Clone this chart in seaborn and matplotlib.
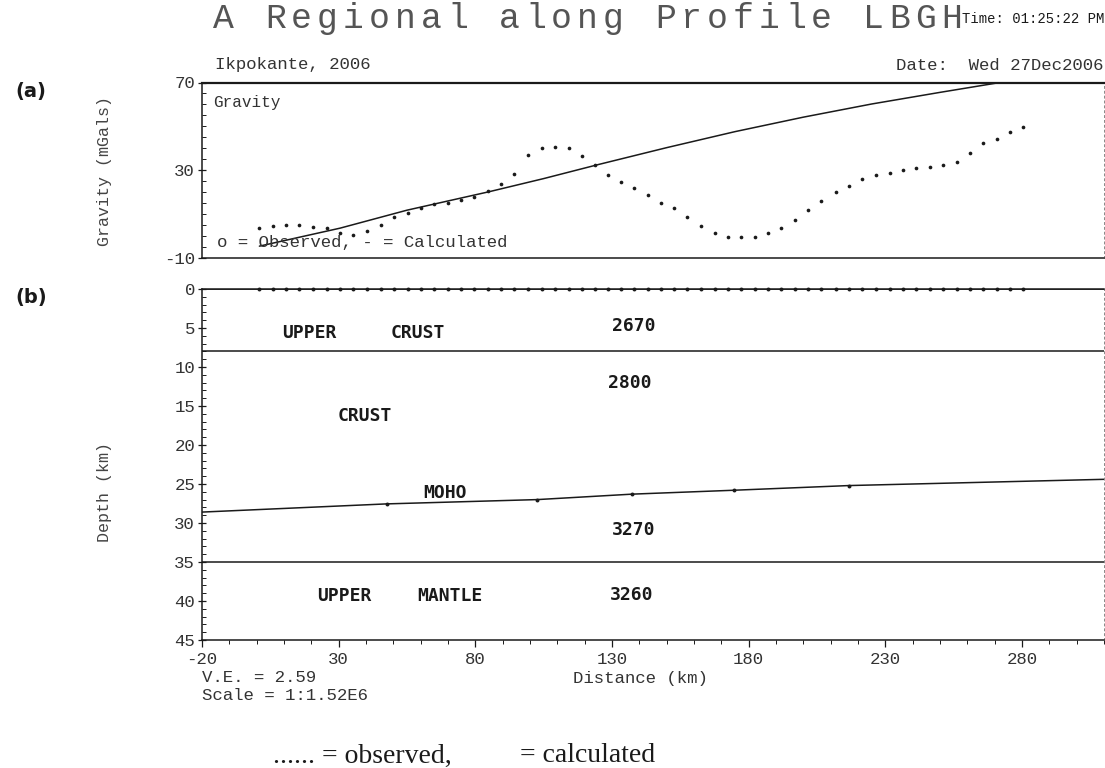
import numpy as np
import pandas as pd
import matplotlib.pyplot as plt
from matplotlib.ticker import MultipleLocator
import seaborn as sns

# gravity stations along the profile (km) and observed anomaly (mGal)
station_km = [1.0, 5.9, 10.8, 15.6, 20.5, 25.7, 30.5, 35.4, 40.5, 45.4,
              50.3, 55.2, 60.1, 65.0, 69.9, 74.8, 79.6, 84.5, 89.4, 94.3,
              99.4, 104.3, 109.2, 114.1, 118.9, 123.6, 128.5, 133.4, 138.2, 143.1,
              147.8, 152.6, 157.5, 162.4, 167.5, 172.4, 177.3, 182.2, 187.1, 192.0,
              196.8, 201.7, 206.6, 211.9, 216.7, 221.6, 226.5, 231.6, 236.5, 241.4,
              246.3, 251.2, 256.1, 260.9, 265.8, 270.7, 275.6, 280.5]
observed_mgal = [3.6, 4.6, 5.1, 5.1, 4.3, 3.6, 1.6, 0.6, 2.1, 5.1,
                 8.6, 10.4, 12.7, 14.6, 15.2, 16.4, 17.9, 20.6, 23.7, 28.5,
                 36.8, 40.3, 40.6, 40.1, 36.3, 32.3, 27.7, 24.7, 21.7, 18.7,
                 14.9, 12.7, 8.9, 4.8, 1.6, -0.5, -0.2, -0.5, 1.3, 3.6,
                 7.3, 11.9, 16.1, 20.2, 22.8, 26.2, 27.7, 28.8, 30.3, 31.2,
                 31.5, 32.3, 33.8, 37.8, 42.4, 44.4, 47.4, 49.9]

# calculated (regional) curve
calc_km = [1.0, 30.5, 55.0, 85.0, 105.0, 125.0, 150.0, 175.0, 200.0, 225.0, 250.0, 270.0, 281.0]
calc_mgal = [-4.6, 3.6, 11.8, 20.2, 26.2, 32.6, 40.3, 47.6, 54.2, 60.2, 65.5, 69.6, 71.5]

# model interfaces (depth in km)
edge_km = [-20, 310]
surface_depth = [0, 0]
crust_base = [8.0, 8.0]
mantle_top = [35.0, 35.0]
moho_km = [-20, 47.6, 102.6, 137.4, 174.6, 216.7, 310]
moho_depth = [28.6, 27.55, 27.0, 26.3, 25.8, 25.2, 24.4]

layer_text = ["UPPER", "CRUST", "2670", "2800", "CRUST", "MOHO",
              "3270", "UPPER", "MANTLE", "3260"]
layer_xy = [(9.4, 5.6), (48.9, 5.6), (130.1, 4.8), (128.6, 12.1), (29.5, 16.3),
            (60.9, 26.2), (130.0, 30.9), (22.2, 39.4), (58.7, 39.4), (129.4, 39.2)]

title = 'A Regional along Profile LBGH'
grav_ticks = [-10, 30, 70]
depth_ticks = list(range(0, 50, 5))
dist_ticks = [-20, 30, 80, 130, 180, 230, 280]

sns.set_theme(style="white")
plt.rcParams['font.family'] = ['Liberation Mono', 'DejaVu Sans Mono']
plt.rcParams['axes.unicode_minus'] = False
ink = '#1a1a1a'
W, H = 1105, 768

fig = plt.figure(figsize=(W / 100, H / 100), dpi=100)
ax1 = fig.add_axes([202 / W, 1 - 258 / H, 902 / W, 175.5 / H])
ax2 = fig.add_axes([202 / W, 1 - 640 / H, 902 / W, 351 / H])


def ftext(x, y, s, **kw):
    fig.text(x / W, 1 - y / H, s, color=kw.pop('color', ink), va=kw.pop('va', 'center'), **kw)


#%% (a) gravity panel
df_obs = pd.DataFrame({'km': station_km, 'mgal': observed_mgal})
df_calc = pd.DataFrame({'km': calc_km, 'mgal': calc_mgal})
sns.scatterplot(data=df_obs, x='km', y='mgal', ax=ax1, s=7, color=ink, linewidth=0)
sns.lineplot(data=df_calc, x='km', y='mgal', ax=ax1, color=ink, lw=1.1)
ax1.set_xlim(-20, 310)
ax1.set_ylim(-10, 70)
ax1.set_xticks([])
ax1.set_yticks(grav_ticks)
ax1.yaxis.set_minor_locator(MultipleLocator(5))
ax1.set_xlabel('')
ax1.set_ylabel('')

#%% (b) density model
sns.lineplot(x=edge_km, y=surface_depth, ax=ax2, color=ink, lw=1.2)
sns.scatterplot(x=station_km, y=[0] * len(station_km), ax=ax2, s=8, color=ink,
                linewidth=0, clip_on=False)
sns.lineplot(x=edge_km, y=crust_base, ax=ax2, color=ink, lw=1.1)
sns.lineplot(x=edge_km, y=mantle_top, ax=ax2, color=ink, lw=1.1)
sns.lineplot(x=moho_km, y=moho_depth, ax=ax2, color=ink, lw=1.1)
sns.scatterplot(x=moho_km[1:-1], y=moho_depth[1:-1], ax=ax2, s=8, color=ink, linewidth=0)
ax2.set_xlim(-20, 310)
ax2.set_ylim(45, 0)
ax2.set_yticks(depth_ticks)
ax2.yaxis.set_minor_locator(MultipleLocator(1))
ax2.set_xticks(dist_ticks)
ax2.xaxis.set_minor_locator(MultipleLocator(10))
ax2.set_xlabel('')
ax2.set_ylabel('')

for s, (xk, zd) in zip(layer_text, layer_xy):
    ax2.text(xk, zd, s, family='DejaVu Sans Mono', weight='bold', fontsize=13,
             color=ink, va='center', ha='left')

for ax in (ax1, ax2):
    for side in ('left', 'bottom', 'top'):
        ax.spines[side].set_color(ink)
        ax.spines[side].set_linewidth(1.1)
    ax.spines['right'].set_color('#888888')
    ax.spines['right'].set_linewidth(0.7)
    ax.spines['right'].set_linestyle((0, (2, 3)))
    ax.tick_params(axis='y', which='major', direction='inout', length=6, width=0.9,
                   color=ink, labelsize=12.5, labelcolor='#333333', pad=2, left=True)
    ax.tick_params(axis='y', which='minor', direction='in', length=3, width=0.7,
                   color=ink, left=True)
ax1.spines['top'].set_linewidth(1.6)
ax2.tick_params(axis='x', which='major', direction='out', length=5, width=0.9,
                color=ink, labelsize=12.5, labelcolor='#333333', pad=4, bottom=True)
ax2.tick_params(axis='x', which='minor', direction='out', length=3, width=0.7,
                color=ink, bottom=True)

#%% header / annotations
# plotter title: thin, widely spaced letters
for i, ch in enumerate(title):
    if ch != ' ':
        ftext(213 + 26.0 * i, 28, ch, fontsize=25, color='#555555', va='baseline')
ftext(1104, 19, 'Time: 01:25:22 PM', fontsize=10, ha='right')
ftext(215, 65, 'Ikpokante, 2006', fontsize=12.5, color='#333333')
ftext(1103, 65, 'Date:  Wed 27Dec2006', fontsize=12.5, ha='right', color='#333333')
ftext(213, 102, 'Gravity', fontsize=11.5, color='#333333')
ftext(217, 243, 'o = Observed, - = Calculated', fontsize=12.5, color='#333333')

ftext(31, 91, '(a)', fontsize=14, weight='bold', family='DejaVu Sans', ha='center')
ftext(31, 297, '(b)', fontsize=14, weight='bold', family='DejaVu Sans', ha='center')
ftext(105, 171, 'Gravity (mGals)', fontsize=12, rotation=90, ha='center', color='#444444')
ftext(105, 492, 'Depth (km)', fontsize=12, rotation=90, ha='center', color='#444444')

ftext(202, 677, 'V.E. = 2.59', fontsize=12.5, color='#333333')
ftext(202, 695, 'Scale = 1:1.52E6', fontsize=12.5, color='#333333')
ftext(640, 678, 'Distance (km)', fontsize=12.5, ha='center', color='#333333')

ftext(273, 756, '...... = observed,', fontsize=20, family='Liberation Serif')
ftext(520, 756, '= calculated', fontsize=20, family='Liberation Serif')

fig.savefig('out.png', dpi=100, facecolor='white')
